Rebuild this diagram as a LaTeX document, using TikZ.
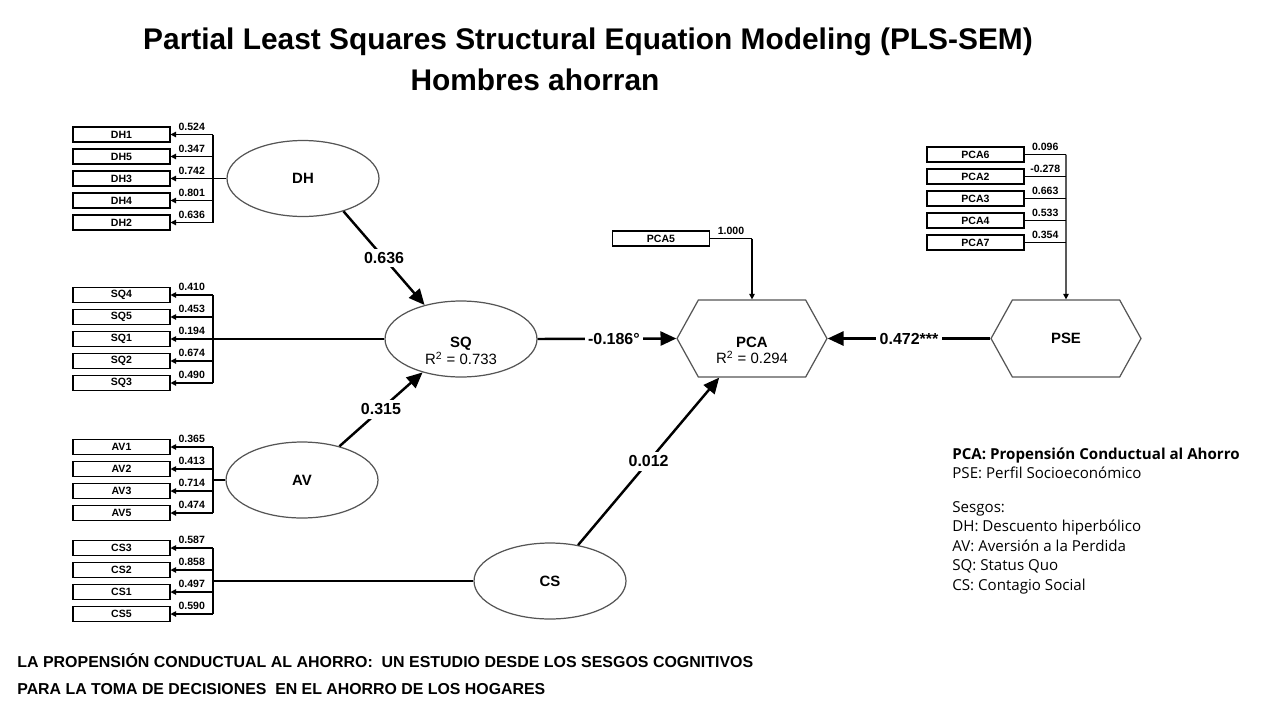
\documentclass[tikz,border=0pt]{standalone}
\usepackage{graphicx}
\usepackage{fontspec}
\setmainfont{Liberation Sans}
\newfontfamily\legendfont{Open Sans}
\usetikzlibrary{positioning, arrows.meta, shapes.geometric, shapes.symbols}
\definecolor{edge}{RGB}{85,85,85}

\begin{document}
\begin{tikzpicture}[
  x=0.02cm, y=-0.02cm,
  node distance=0.119cm,
  latent/.style={ellipse, draw=edge, line width=0.7pt, inner sep=0pt,
                 minimum width=3.04cm, minimum height=1.52cm,
                 font=\bfseries\fontsize{8.5}{9.5}\selectfont},
  target/.style={signal, signal to=west and east, signal pointer angle=122,
                 draw=edge, line width=0.7pt, inner sep=0pt,
                 minimum width=3cm, minimum height=1.54cm,
                 font=\bfseries\fontsize{8.5}{9.5}\selectfont},
  inside/.style={align=center, yshift=-0.24cm, font=\fontsize{8.5}{9.3}\selectfont},
  ind/.style={draw, line width=0.6pt, inner sep=0pt,
              minimum width=1.94cm, minimum height=0.3cm,
              font=\bfseries\fontsize{6}{7}\selectfont},
  link/.style={line width=0.6pt},
  load/.style={-{Triangle[length=3.2pt, width=3.2pt]}, line width=0.6pt},
  struct/.style={-{Triangle[length=9pt, width=8pt]}, line width=1.4pt},
  wt/.style={midway, above=2pt, inner sep=0pt, font=\bfseries\fontsize{6}{7}\selectfont},
  coef/.style={midway, fill=white, inner sep=2pt, font=\bfseries\fontsize{9.1}{11}\selectfont},
  keytext/.style={anchor=west, align=left, inner sep=0pt, font=\legendfont\fontsize{8.6}{11.1}\selectfont},
]
  \useasboundingbox (0,0) rectangle (1280,720);

  % title
  \node[font=\bfseries\fontsize{17}{20}\selectfont] (title) at (588,42)
    {Partial Least Squares Structural Equation Modeling (PLS-SEM)};
  \node[font=\bfseries\fontsize{17}{20}\selectfont] (subtitle) at (535,80) {Hombres ahorran};

  % latent variables
  \node[latent] (dh) at (303,178.5) {DH};
  \node[latent, label={[inside]center:\textbf{SQ}\\R\textsuperscript{2} = 0.733}] (sq) at (461,339) {};
  \node[latent] (av) at (302,480) {AV};
  \node[latent] (cs) at (550,581) {CS};
  \node[target, label={[inside]center:\textbf{PCA}\\R\textsuperscript{2} = 0.294}] (pca) at (752,338.5) {};
  \node[target] (pse) at (1066,338.5) {PSE};

  % DH indicators
  \node[ind] (dh1) at (121.5,134.5) {DH1};
  \node[ind, below=of dh1] (dh5) {DH5};
  \node[ind, below=of dh5] (dh3) {DH3};
  \node[ind, below=of dh3] (dh4) {DH4};
  \node[ind, below=of dh4] (dh2) {DH2};
  \coordinate (dhbar) at (213,178.5);
  \draw[link] (dh) -- (dhbar);
  \draw[link] (dhbar |- dh1) -- (dhbar |- dh2);
  \draw[load] (dhbar |- dh1) -- (dh1) node[wt] {0.524};
  \draw[load] (dhbar |- dh5) -- (dh5) node[wt] {0.347};
  \draw[load] (dhbar |- dh3) -- (dh3) node[wt] {0.742};
  \draw[load] (dhbar |- dh4) -- (dh4) node[wt] {0.801};
  \draw[load] (dhbar |- dh2) -- (dh2) node[wt] {0.636};

  % SQ indicators
  \node[ind] (sq4) at (121.5,295) {SQ4};
  \node[ind, below=of sq4] (sq5) {SQ5};
  \node[ind, below=of sq5] (sq1) {SQ1};
  \node[ind, below=of sq1] (sq2) {SQ2};
  \node[ind, below=of sq2] (sq3) {SQ3};
  \coordinate (sqbar) at (213,339);
  \draw[link] (sq) -- (sqbar);
  \draw[link] (sqbar |- sq4) -- (sqbar |- sq3);
  \draw[load] (sqbar |- sq4) -- (sq4) node[wt] {0.410};
  \draw[load] (sqbar |- sq5) -- (sq5) node[wt] {0.453};
  \draw[load] (sqbar |- sq1) -- (sq1) node[wt] {0.194};
  \draw[load] (sqbar |- sq2) -- (sq2) node[wt] {0.674};
  \draw[load] (sqbar |- sq3) -- (sq3) node[wt] {0.490};

  % AV indicators
  \node[ind] (av1) at (121.5,447) {AV1};
  \node[ind, below=of av1] (av2) {AV2};
  \node[ind, below=of av2] (av3) {AV3};
  \node[ind, below=of av3] (av5) {AV5};
  \coordinate (avbar) at (213,480);
  \draw[link] (av) -- (avbar);
  \draw[link] (avbar |- av1) -- (avbar |- av5);
  \draw[load] (avbar |- av1) -- (av1) node[wt] {0.365};
  \draw[load] (avbar |- av2) -- (av2) node[wt] {0.413};
  \draw[load] (avbar |- av3) -- (av3) node[wt] {0.714};
  \draw[load] (avbar |- av5) -- (av5) node[wt] {0.474};

  % CS indicators
  \node[ind] (cs3) at (121.5,548) {CS3};
  \node[ind, below=of cs3] (cs2) {CS2};
  \node[ind, below=of cs2] (cs1) {CS1};
  \node[ind, below=of cs1] (cs5) {CS5};
  \coordinate (csbar) at (213,581);
  \draw[link] (cs) -- (csbar);
  \draw[link] (csbar |- cs3) -- (csbar |- cs5);
  \draw[load] (csbar |- cs3) -- (cs3) node[wt] {0.587};
  \draw[load] (csbar |- cs2) -- (cs2) node[wt] {0.858};
  \draw[load] (csbar |- cs1) -- (cs1) node[wt] {0.497};
  \draw[load] (csbar |- cs5) -- (cs5) node[wt] {0.590};

  % PCA indicator
  \node[ind] (pca5) at (661,238.5) {PCA5};
  \coordinate (pcabar) at (752,238.5);
  \draw[link] (pca5) -- (pcabar) node[wt] {1.000};
  \draw[load] (pcabar) -- (pca);

  % PSE indicators
  \node[ind] (pca6) at (975.5,154.5) {PCA6};
  \node[ind, below=of pca6] (pca2) {PCA2};
  \node[ind, below=of pca2] (pca3) {PCA3};
  \node[ind, below=of pca3] (pca4) {PCA4};
  \node[ind, below=of pca4] (pca7) {PCA7};
  \coordinate (psebar) at (1066,154.5);
  \draw[link] (pca6) -- (psebar) node[wt] {0.096};
  \draw[link] (pca2) -- (psebar |- pca2) node[wt] {-0.278};
  \draw[link] (pca3) -- (psebar |- pca3) node[wt] {0.663};
  \draw[link] (pca4) -- (psebar |- pca4) node[wt] {0.533};
  \draw[link] (pca7) -- (psebar |- pca7) node[wt] {0.354};
  \draw[load] (psebar) -- (pse);

  % structural paths
  \draw[struct] (dh.-39) -- (sq.137) node[coef] {0.636};
  \draw[struct] (av.42) -- (sq.-139) node[coef] {0.315};
  \draw[struct] (sq.east) -- (pca.west) node[coef, pos=0.55] {-0.186°};
  \draw[struct] (pse.west) -- (pca.east) node[coef] {0.472***};
  \draw[struct] (cs.52) -- (pca.-130) node[coef] {0.012};

  % legend
  \node[keytext] (key) at (952,463.5)
    {\textbf{PCA: Propensión Conductual al Ahorro}\\PSE: Perfil Socioeconómico};
  \node[keytext] (bias) at (952,547.5)
    {Sesgos:\\DH: Descuento hiperbólico\\AV: Aversión a la Perdida\\SQ: Status Quo\\CS: Contagio Social};

  % study note
  \node[anchor=west, inner sep=0pt, font=\bfseries\fontsize{9}{11}\selectfont] (note1) at (17,661)
    {\resizebox{14.72cm}{\height}{LA PROPENSIÓN CONDUCTUAL AL AHORRO:\ \ UN ESTUDIO DESDE LOS SESGOS COGNITIVOS}};
  \node[anchor=west, inner sep=0pt, font=\bfseries\fontsize{9}{11}\selectfont] (note2) at (17,689)
    {\resizebox{10.56cm}{\height}{PARA LA TOMA DE DECISIONES\ \ EN EL AHORRO DE LOS HOGARES}};
\end{tikzpicture}
\end{document}
